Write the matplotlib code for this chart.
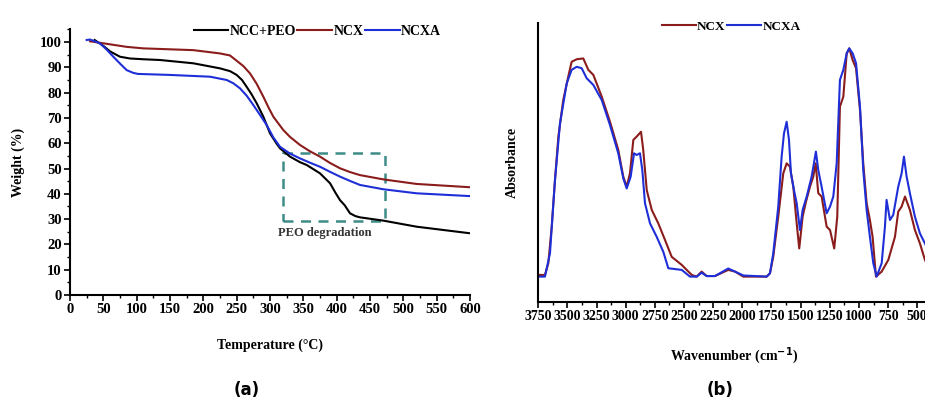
import numpy as np
import matplotlib
matplotlib.use("Agg")
import matplotlib.pyplot as plt
from matplotlib.patches import Rectangle
from matplotlib.ticker import MultipleLocator

plt.rcParams['font.family'] = ['Liberation Serif', 'DejaVu Serif']
plt.rcParams['font.weight'] = 'bold'

# ---- TGA data (panel a) ----
t_peo = [37, 50, 60, 75, 90, 110, 135, 185, 225, 240, 250, 258, 265, 272, 280, 290, 300,
         310, 315, 330, 345, 355, 375, 390, 398, 405, 412, 420, 428, 435, 470, 520, 600]
w_peo = [100.8, 98.5, 96.3, 94.2, 93.5, 93.2, 92.9, 91.6, 89.6, 88.5, 87.0, 85.0, 82.3,
         79.5, 75.8, 70.5, 63.9, 59.8, 58.0, 54.7, 52.5, 51.4, 48.1, 44.2, 40.5, 37.5,
         35.5, 32.3, 31.2, 30.7, 29.4, 27.0, 24.4]

t_ncx = [30, 35, 85, 110, 185, 225, 240, 250, 260, 270, 280, 290, 298, 305, 312, 320,
         330, 345, 360, 375, 390, 405, 420, 435, 470, 520, 600]
w_ncx = [100.3, 100.1, 98.1, 97.5, 96.8, 95.5, 94.7, 92.6, 90.5, 87.6, 83.5, 78.4, 74.0,
         70.5, 68.0, 65.2, 62.5, 59.3, 56.8, 54.7, 52.2, 50.1, 48.6, 47.4, 45.7, 43.9,
         42.6]

t_ncxa = [25, 30, 45, 55, 65, 75, 85, 95, 102, 150, 210, 235, 245, 255, 265, 275, 285,
          295, 305, 315, 330, 345, 360, 375, 390, 405, 420, 435, 470, 520, 600]
w_ncxa = [100.8, 101.0, 99.5, 97.0, 94.2, 91.5, 88.9, 87.8, 87.4, 87.0, 86.3, 85.0, 83.7,
          81.7, 78.8, 75.1, 71.2, 67.2, 62.3, 58.6, 55.9, 54.0, 52.3, 50.7, 48.7, 46.8,
          45.1, 43.5, 41.8, 40.2, 39.1]

# ---- FTIR data (panel b) ----
wn_ncx = [3750, 3693, 3664, 3635, 3607, 3578, 3536, 3493, 3464, 3421, 3364, 3321, 3278,
          3206, 3135, 3064, 3021, 2992, 2964, 2935, 2906, 2869, 2850, 2820, 2777, 2721,
          2663, 2606, 2520, 2434, 2392, 2349, 2306, 2235, 2121, 2063, 1992, 1791, 1763,
          1735, 1692, 1649, 1620, 1592, 1563, 1534, 1512, 1483, 1454, 1420, 1392, 1371,
          1349, 1320, 1277, 1248, 1212, 1186, 1163, 1134, 1105, 1083, 1054, 1025, 991,
          963, 934, 906, 883, 854, 805, 748, 691, 663, 634, 605, 563, 520, 477, 434, 400]
ab_ncx = [0.097, 0.097, 0.139, 0.27, 0.437, 0.593, 0.724, 0.808, 0.861, 0.870, 0.873,
          0.832, 0.814, 0.736, 0.646, 0.545, 0.449, 0.413, 0.461, 0.581, 0.593, 0.610,
          0.545, 0.401, 0.330, 0.282, 0.222, 0.162, 0.133, 0.097, 0.091, 0.109, 0.093,
          0.093, 0.115, 0.109, 0.091, 0.091, 0.103, 0.162, 0.306, 0.461, 0.497, 0.485,
          0.413, 0.282, 0.192, 0.306, 0.360, 0.413, 0.449, 0.497, 0.390, 0.378, 0.270,
          0.258, 0.192, 0.306, 0.700, 0.736, 0.891, 0.909, 0.867, 0.838, 0.688, 0.497,
          0.354, 0.294, 0.234, 0.091, 0.109, 0.151, 0.234, 0.324, 0.342, 0.378, 0.330,
          0.258, 0.210, 0.151, 0.120]

wn_ncxa = [3750, 3693, 3650, 3607, 3564, 3506, 3464, 3421, 3378, 3335, 3278, 3206, 3135,
           3064, 3021, 2992, 2958, 2929, 2906, 2878, 2858, 2835, 2792, 2735, 2678, 2635,
           2520, 2449, 2392, 2349, 2306, 2235, 2121, 2063, 1992, 1791, 1763, 1735, 1692,
           1663, 1643, 1620, 1600, 1583, 1557, 1534, 1506, 1483, 1448, 1406, 1369, 1349,
           1320, 1277, 1248, 1220, 1191, 1163, 1134, 1105, 1083, 1054, 1025, 991, 963,
           934, 906, 877, 848, 805, 777, 763, 734, 706, 663, 634, 614, 591, 563, 520,
           477, 434, 400]
ab_ncxa = [0.091, 0.091, 0.174, 0.437, 0.640, 0.784, 0.832, 0.843, 0.838, 0.802, 0.778,
           0.724, 0.634, 0.533, 0.443, 0.407, 0.449, 0.533, 0.527, 0.533, 0.473, 0.354,
           0.282, 0.234, 0.180, 0.121, 0.115, 0.091, 0.091, 0.105, 0.093, 0.093, 0.120,
           0.109, 0.095, 0.091, 0.103, 0.174, 0.342, 0.521, 0.604, 0.646, 0.581, 0.461,
           0.401, 0.354, 0.258, 0.330, 0.378, 0.449, 0.539, 0.473, 0.413, 0.318, 0.342,
           0.378, 0.497, 0.796, 0.832, 0.891, 0.909, 0.891, 0.856, 0.700, 0.473, 0.330,
           0.234, 0.139, 0.091, 0.139, 0.270, 0.366, 0.294, 0.312, 0.413, 0.461, 0.521,
           0.449, 0.390, 0.306, 0.246, 0.210, 0.180]

RED = '#8b1c1c'
BLUE = '#1f2fd8'
TEAL = '#3d8c88'

fig = plt.figure(figsize=(9.25, 4.01), dpi=100)

# ---------- panel (a) ----------
ax1 = fig.add_axes([70/925, 106/401, 400/925, 265.6/401])
ax1.plot(t_peo, w_peo, color='black', lw=1.5, label='NCC+PEO')
ax1.plot(t_ncx, w_ncx, color=RED, lw=1.5, label='NCX')
ax1.plot(t_ncxa, w_ncxa, color=BLUE, lw=1.5, label='NCXA')
ax1.add_patch(Rectangle((319, 29.4), 153.5, 26.8, fill=False, ec=TEAL, lw=1.8,
                        ls=(0, (4, 3))))
ax1.text(312, 24.6, 'PEO degradation', fontsize=9, color='#333333', va='center',
         fontweight='bold')
ax1.set_xlim(0, 600)
ax1.set_ylim(0, 105)
ax1.xaxis.set_major_locator(MultipleLocator(50))
ax1.xaxis.set_minor_locator(MultipleLocator(25))
ax1.yaxis.set_minor_locator(MultipleLocator(5))
ax1.set_yticks(np.arange(0, 101, 10))
for s in ['top', 'right']:
    ax1.spines[s].set_visible(False)
for s in ['left', 'bottom']:
    ax1.spines[s].set_linewidth(1.5)
ax1.tick_params(which='major', direction='out', length=4, width=1.2, labelsize=10.5, pad=2)
ax1.tick_params(which='minor', direction='out', length=2, width=1)
ax1.set_xlabel('Temperature (°C)', fontsize=10, fontweight='bold', labelpad=16)
ax1.set_ylabel('Weight (%)', fontsize=10, fontweight='bold', labelpad=11)
ax1.legend(loc='upper right', bbox_to_anchor=(448/925, 1 - 18/401),
           bbox_transform=fig.transFigure, ncol=3, frameon=False, fontsize=10,
           handlelength=2.5, handletextpad=0.1, columnspacing=0.1, borderpad=0)

# ---------- panel (b) ----------
ax2 = fig.add_axes([538.3/925, 99/401, 390.6/925, 279/401])
ax2.plot(wn_ncx, ab_ncx, color=RED, lw=1.5, label='NCX')
ax2.plot(wn_ncxa, ab_ncxa, color=BLUE, lw=1.5, label='NCXA')
ax2.set_xlim(3750, 400)
ax2.set_ylim(0, 1.0)
ax2.set_xticks(np.arange(3750, 499, -250))
ax2.xaxis.set_minor_locator(MultipleLocator(125))
ax2.set_yticks([])
for s in ['top', 'right']:
    ax2.spines[s].set_visible(False)
for s in ['left', 'bottom']:
    ax2.spines[s].set_linewidth(1.5)
ax2.tick_params(which='major', direction='out', length=4, width=1.2, labelsize=10, pad=2)
ax2.tick_params(which='minor', direction='out', length=2, width=1)
ax2.set_xlabel('Wavenumber (cm$^{\\mathbf{-1}}$)', fontsize=10, fontweight='bold',
               labelpad=16)
ax2.set_ylabel('Absorbance', fontsize=10, fontweight='bold', labelpad=14)
ax2.legend(loc='upper left', bbox_to_anchor=(655/925, 1 - 14/401),
           bbox_transform=fig.transFigure, ncol=2, frameon=False, fontsize=9.5,
           handlelength=2.6, handletextpad=0.1, columnspacing=0.1, borderpad=0)

fig.text(247/925, 1 - 390/401, '(a)', fontsize=12, ha='center', va='center',
         family='DejaVu Sans')
fig.text(720/925, 1 - 390/401, '(b)', fontsize=12, ha='center', va='center',
         family='DejaVu Sans')

fig.savefig('out.png', dpi=100)
